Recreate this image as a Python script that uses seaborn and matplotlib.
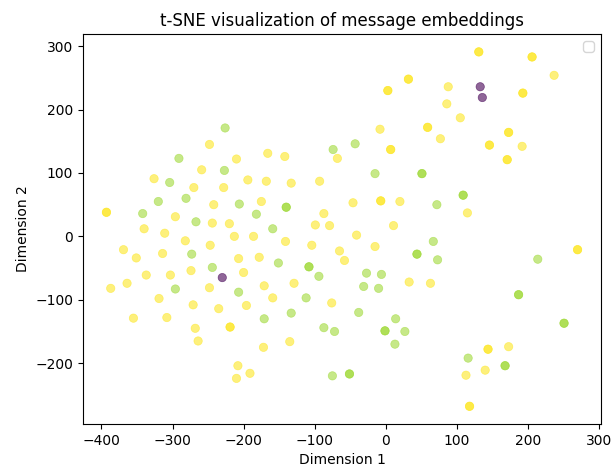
import numpy as np
import matplotlib.pyplot as plt
import seaborn as sns

# t-SNE coordinates, grouped by cluster label.
# repeats = number of identical messages stacked on the same spot
yellow_x = [-340, -326, -311, -296, -270, -259, -248, -244, -242, -228, -220, -210,
            -194, -175, -168, -166, -142, -133, -93, -87, -99, -79, -68,
            -282, -213, -186, -141, -104, -65, -369, -351, -314, -247, -207, -178,
            -387, -364, -337, -303, -274, -200, -171, -129, -248, -159, -76, -319,
            -271, -235, -196, -355, -308, -268, -264, -172, -135, -208, -191, -210,
            88, 86, 105, -8, 77, -46, 20, 115, 11, -41, -15, -58, 33, 63, 113,
            237, 192, 173, 140,
            -393, -219, 32, 3, 59, 7, -7, 131, 206, 193, 173, 146, 171, 270, 144, 118]
yellow_y = [12, 91, 5, 31, 77, 105, 145, 21, 50, 77, 20, 122,
            89, 55, 87, 131, 126, 84, 87, 36, 18, 17, 123,
            -7, 0, 0, -8, -14, -23, -21, -34, -27, -14, -35, -33,
            -82, -74, -61, -61, -54, -57, -78, -74, -81, -97, -105, -98,
            -108, -114, -109, -129, -128, -145, -165, -175, -166, -204, -216, -224,
            236, 209, 187, 169, 154, 53, 55, 37, 17, 2, -16, -38, -72, -74, -219,
            254, 142, -174, -211,
            38, -143, 248, 230, 172, 137, 56, 291, 283, 226, 164, 144, 121, -21, -178, -268]
yellow_rep = [1] * 78 + [2] * 16

green_x = [-342, -320, -304, -291, -281, -267, -226, -227, -206, -182, -159, -74,
           -273, -151, -94, -244, -296, -207, -112, -133, -171, -87, -72, -75,
           -43, -15, 72, 67, 73, -27, -6, -31, -10, -38, 14, 27, 13, 116, 214,
           -140, -108, 51, 109, 44, -1, -51, 187, 251, 168]
green_y = [36, 55, 85, 123, 60, 23, 171, 104, 51, 35, 12, 137,
           -28, -42, -63, -49, -83, -88, -97, -121, -130, -144, -150, -220,
           146, 99, 50, -8, -37, -58, -60, -79, -82, -120, -130, -150, -170, -192, -36,
           46, -48, 99, 65, -28, -149, -217, -92, -137, -204]
green_rep = [1] * 39 + [2] * 10

purple_x = [-230, 133, 136]
purple_y = [-65, 236, 219]
purple_rep = [1, 1, 1]

label_values = {"purple": 0, "green": 6, "yellow": 7}

xs, ys, labels = [], [], []
for name, gx, gy, rep in [("purple", purple_x, purple_y, purple_rep),
                          ("green", green_x, green_y, green_rep),
                          ("yellow", yellow_x, yellow_y, yellow_rep)]:
    xs.extend(np.repeat(gx, rep))
    ys.extend(np.repeat(gy, rep))
    labels.extend([label_values[name]] * int(np.sum(rep)))

fig = plt.figure(figsize=(6.14, 4.68), dpi=100)
ax = fig.add_axes([0.135, 0.094, 0.844, 0.833])

sns.scatterplot(x=xs, y=ys, hue=labels, palette="viridis", hue_norm=(0, 7),
                alpha=0.6, s=36, edgecolor="face", linewidth=0.5,
                legend=False, ax=ax)

ax.set_title("t-SNE visualization of message embeddings")
ax.set_xlabel("Dimension 1")
ax.set_ylabel("Dimension 2")
ax.legend(loc="upper right")

fig.savefig("out.png", dpi=100)
